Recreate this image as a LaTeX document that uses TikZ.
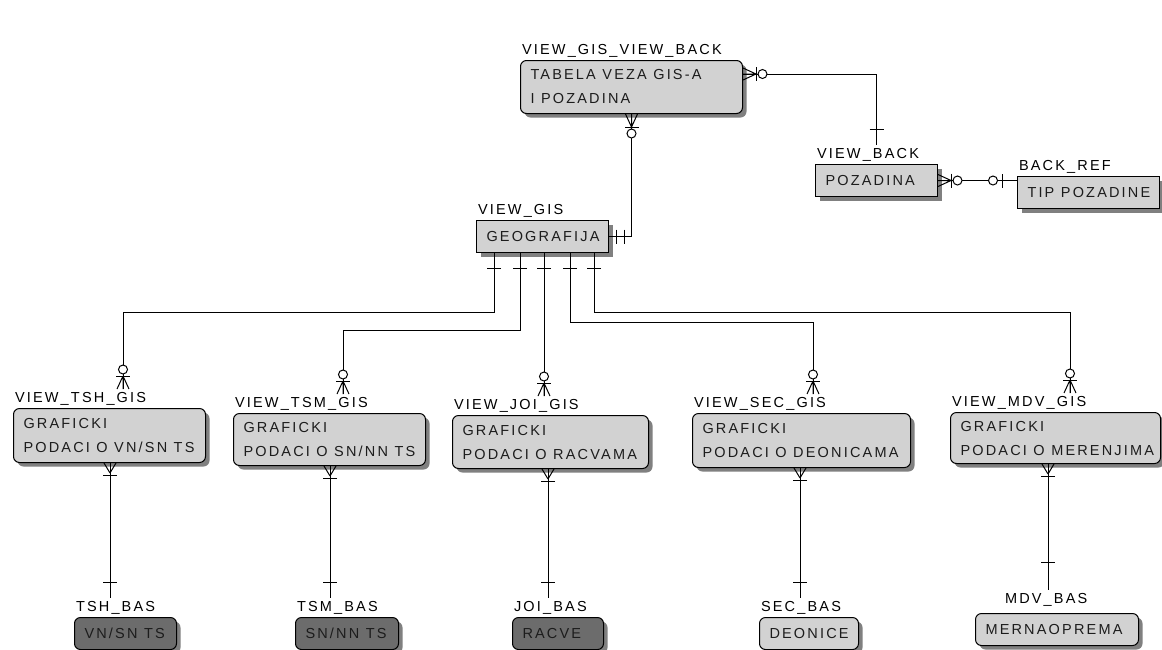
\documentclass[tikz,border=0pt]{standalone}
\usepackage{fontspec}
\setmainfont{Liberation Sans}[LetterSpace=15]
\usetikzlibrary{shadows}

\definecolor{grigio}{RGB}{210,210,210}
\definecolor{scuro}{RGB}{108,108,108}
\definecolor{testo}{RGB}{28,28,28}

\newcommand{\spazio}{\kern6.5pt}

\tikzset{
  % ---- simboli di cardinalita' (asse x verso l'esterno dell'entita') ----
  pics/molti/.style={code={
    \draw (0,-6) -- (13,0) (0,0) -- (13,0) (0,6) -- (13,0);
    \draw (13,-7) -- (13,7);
    \draw[fill=white] (19.5,0) circle (4.5);
  }},
  pics/unomolti/.style={code={
    \draw (0,-6) -- (10,0) (0,6) -- (10,0);
    \draw (12,-7) -- (12,7);
  }},
  pics/uno/.style={code={\draw (#1,-7) -- (#1,7);}},
  pics/unouno/.style={code={\draw (7,-7) -- (7,7) (15,-7) -- (15,7);}},
  pics/zerouno/.style={code={
    \draw (15,-7) -- (15,7);
    \draw[fill=white] (24,0) circle (4.5);
  }},
}

\begin{document}
\begin{tikzpicture}[
    x=1pt, y=-1pt,
    line width=1pt,
    font=\fontsize{14.5}{24}\selectfont,
    lbl/.style={anchor=south west, inner xsep=1.5pt, inner ysep=2.5pt},
    tab/.style={draw, fill=grigio, text=testo, anchor=north west, align=left,
      inner xsep=10pt, inner ysep=0pt,
      execute at begin node={\hyphenpenalty=10000\exhyphenpenalty=10000},
      drop shadow={shadow xshift=4pt, shadow yshift=-4pt, fill=black!50, opacity=1}},
    vista/.style={tab, rounded corners=6pt},
    base/.style={vista, fill=scuro}]

  \useasboundingbox (0,0) rectangle (1162,649);

  % ---- entita' in alto -------------------------------------------------------
  \node[vista, text width=202pt, minimum height=53pt] (gisback) at (520,60)
    {TABELA\spazio VEZA\spazio GIS-A\\I\spazio POZADINA};
  \node[lbl] (l-gisback) at (gisback.north west) {VIEW\_GIS\_VIEW\_BACK};

  \node[tab, text width=102pt, minimum height=32pt] (back) at (815,164) {POZADINA};
  \node[lbl] (l-back) at (back.north west) {VIEW\_BACK};

  \node[tab, text width=122pt, minimum height=32pt] (backref) at (1017,176) {TIP\spazio POZADINE};
  \node[lbl] (l-backref) at (backref.north west) {BACK\_REF};

  \node[tab, text width=112pt, minimum height=32pt] (gis) at (476,220) {GEOGRAFIJA};
  \node[lbl] (l-gis) at (gis.north west) {VIEW\_GIS};

  % ---- viste grafiche ---------------------------------------------------------
  \node[vista, text width=172pt, minimum height=54pt] (vis-tsh) at (13,408)
    {GRAFICKI\\PODACI\spazio O\spazio VN/SN\spazio TS};
  \node[vista, text width=172pt, minimum height=52pt] (vis-tsm) at (233,413)
    {GRAFICKI\\PODACI\spazio O\spazio SN/NN\spazio TS};
  \node[vista, text width=176pt, minimum height=53pt] (vis-joi) at (452,415)
    {GRAFICKI\\PODACI\spazio O\spazio RACVAMA};
  \node[vista, text width=198pt, minimum height=54pt] (vis-sec) at (692,413)
    {GRAFICKI\\PODACI\spazio O\spazio DEONICAMA};
  \node[vista, text width=190pt, minimum height=51pt] (vis-mdv) at (950,412)
    {GRAFICKI\\PODACI\spazio O\spazio MERENJIMA};
  \foreach \v/\t in {tsh/TSH, tsm/TSM, joi/JOI, sec/SEC, mdv/MDV}
    \node[lbl] (l-vis-\v) at (vis-\v.north west) {VIEW\_\t\_GIS};

  % ---- tabele osnovnih podataka --------------------------------------------
  \node[base, text width=82pt, minimum height=32pt] (bas-tsh) at (74,617) {VN/SN\spazio TS};
  \node[base, text width=83pt, minimum height=32pt] (bas-tsm) at (295,617) {SN/NN\spazio TS};
  \node[base, text width=71pt, minimum height=32pt] (bas-joi) at (512,617) {RACVE};
  \node[vista, text width=79pt, minimum height=32pt] (bas-sec) at (759,617) {DEONICE};
  \node[vista, text width=143pt, minimum height=32pt] (bas-mdv) at (975,613) {MERNAOPREMA};
  \foreach \v/\t in {tsh/TSH, tsm/TSM, joi/JOI, sec/SEC}
    \node[lbl] (l-bas-\v) at (bas-\v.north west) {\t\_BAS};
  \node[lbl] (l-bas-mdv) at ([shift={(28,-4)}]bas-mdv.north west) {MDV\_BAS};

  % ---- relazioni in alto -----------------------------------------------------
  \coordinate (gb-e) at ([yshift=13pt]gisback.east);
  \draw (gb-e) -| (back.north |- l-back.north);
  \draw (gisback.south) |- (gis.east);
  \draw (back.east) -- (back.east -| backref.west);

  \pic at (gb-e) {molti};
  \pic[rotate=-90] at (gisback.south) {molti};
  \pic[rotate=90] at (back.north |- l-back.north) {uno=16};
  \pic at (back.east) {molti};
  \pic[rotate=180] at (back.east -| backref.west) {zerouno};
  \pic at (gis.east) {unouno};

  % ---- da GEOGRAFIJA alle viste ----------------------------------------------
  \foreach \xg/\yh/\xv/\v in {494/312/123/tsh, 520/330/343/tsm, 570/322/813/sec, 594/312/1070/mdv}
  {
    \draw (\xg,0 |- gis.south) |- (\xv,\yh) -- (\xv,0 |- l-vis-\v.north);
    \pic[rotate=90] at (\xv,0 |- l-vis-\v.north) {molti};
  }
  \draw (544,0 |- gis.south) -- (544,0 |- l-vis-joi.north);
  \pic[rotate=90] at (544,0 |- l-vis-joi.north) {molti};
  \foreach \xg in {494,520,544,570,594}
    \pic[rotate=-90] at (\xg,0 |- gis.south) {uno=15};

  % ---- dalle viste alle tabele -----------------------------------------------
  \foreach \x/\v/\d in {110/tsh/16, 330/tsm/16, 548/joi/16, 800/sec/16, 1048/mdv/28}
  {
    \draw (\x,0 |- vis-\v.south) -- (\x,0 |- l-bas-\v.north);
    \pic[rotate=-90] at (\x,0 |- vis-\v.south) {unomolti};
    \pic[rotate=90] at (\x,0 |- l-bas-\v.north) {uno=\d};
  }

\end{tikzpicture}
\end{document}
